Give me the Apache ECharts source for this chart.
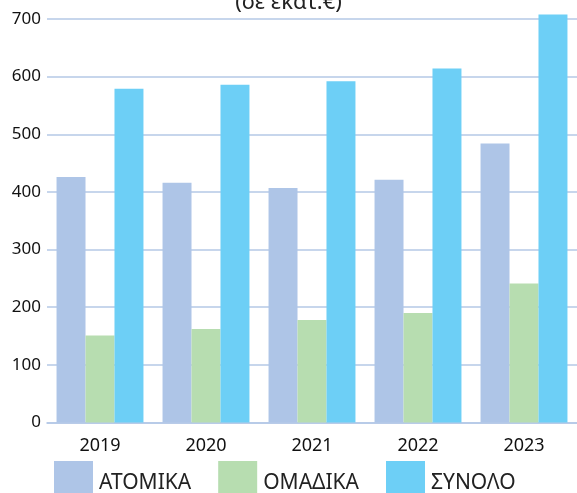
<!DOCTYPE html>
<html>
<head>
<meta charset="utf-8">
<script src="https://cdn.jsdelivr.net/npm/echarts@6/dist/echarts.min.js"></script>
<style>
  html, body { margin: 0; padding: 0; background: #fff; }
  #chart { width: 577px; height: 493px; }
</style>
</head>
<body>
<div id="chart"></div>
<script>
const titleText = "(σε εκατ.€)";
const categories = ["2019", "2020", "2021", "2022", "2023"];
const seriesNames = ["ΑΤΟΜΙΚΑ", "ΟΜΑΔΙΚΑ", "ΣΥΝΟΛΟ"];
const atomika = [426, 416, 407, 421, 484];
const omadika = [151, 162, 178, 190, 241];
const synolo = [579, 586, 592, 614, 708];
const yTicks = [0, 100, 200, 300, 400, 500, 600, 700];

const colors = ["#aec5e7", "#b7ddb0", "#6dcff6"];
const gridColor = "#b4c8e6";

const chart = echarts.init(document.getElementById("chart"), null, { renderer: "canvas" });
const option = {
  animation: false,
  backgroundColor: "#ffffff",
  title: {
    text: titleText,
    left: "center",
    top: -13,
    textStyle: { fontFamily: "Noto Sans", fontSize: 22, fontWeight: "normal", color: "#222" }
  },
  grid: { left: 47, right: 0, top: 19, bottom: 70.5, containLabel: false },
  legend: {
    data: seriesNames,
    left: 49,
    top: 456,
    itemWidth: 39,
    itemHeight: 32,
    itemGap: 27,
    icon: "rect",
    formatter: function (name) { return "{t|" + name + "}"; },
    textStyle: {
      fontFamily: "Noto Sans", fontSize: 21, color: "#222",
      rich: { t: { fontFamily: "Noto Sans", fontSize: 21, color: "#222", padding: [12, 0, 0, 1] } }
    }
  },
  xAxis: {
    type: "category",
    data: categories,
    axisTick: { show: false },
    axisLine: { lineStyle: { color: gridColor, width: 1.6 } },
    axisLabel: { margin: 14, fontFamily: "Liberation Sans Narrow, Noto Sans", fontSize: 18, color: "#111" }
  },
  yAxis: {
    type: "value",
    min: yTicks[0],
    max: yTicks[yTicks.length - 1],
    interval: yTicks[1] - yTicks[0],
    axisLine: { show: false },
    axisTick: { show: false },
    splitLine: { lineStyle: { color: gridColor, width: 1.6 } },
    axisLabel: { margin: 6, fontFamily: "Noto Sans", fontSize: 17, color: "#111" }
  },
  series: [
    { name: seriesNames[0], type: "bar", data: atomika, clip: false, itemStyle: { color: colors[0] }, barGap: "0%", barCategoryGap: "18%" },
    { name: seriesNames[1], type: "bar", data: omadika, clip: false, itemStyle: { color: colors[1] }, barGap: "0%", barCategoryGap: "18%" },
    { name: seriesNames[2], type: "bar", data: synolo, clip: false, itemStyle: { color: colors[2] }, barGap: "0%", barCategoryGap: "18%" }
  ]
};
chart.setOption(option);
</script>
</body>
</html>
